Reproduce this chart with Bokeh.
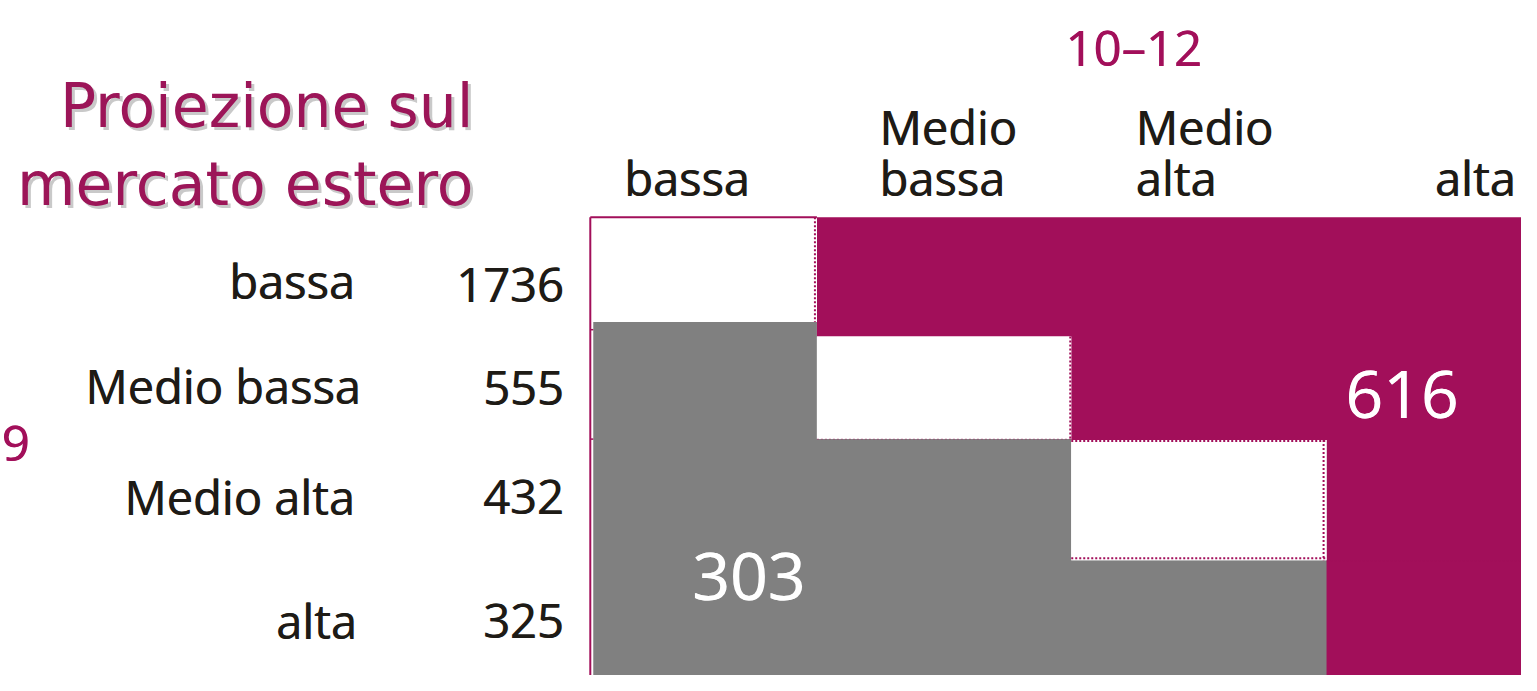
from bokeh.plotting import figure
from bokeh.models import Range1d, ColumnDataSource
from bokeh.core.properties import value
from bokeh.embed import file_html
from bokeh.resources import INLINE

# ---------------- data ----------------
row_labels = ["bassa", "Medio bassa", "Medio alta", "alta"]
row_counts = [1736, 555, 432, 325]
col_labels = [["bassa"], ["Medio", "bassa"], ["Medio", "alta"], ["alta"]]
lower_value = 303
upper_value = 616
col_group = "10–12"
row_group = "9"
title_lines = ["Proiezione sul", "mercato estero"]

# ---------------- layout / style ----------------
W, H = 1537, 691
MAG = "#A20F5A"
GRAY = "#808080"
DARK = "#1E1B16"
FONT = "Open Sans"
col_edges = [597, 825, 1082, 1340, W]
diag_top = [222, 344, 450]
diag_bottom = [329, 449, 573]
grid_top = 222

p = figure(width=1521, height=675, x_range=Range1d(0, W), y_range=Range1d(H, 0),
           output_backend="svg", toolbar_location=None, min_border=0)
p.axis.visible = False
p.grid.visible = False
p.outline_line_color = None
p.background_fill_color = "white"
p.border_fill_color = "white"

n = len(row_labels)
nd = len(diag_top)

# lower triangle (gray) as one staircase polygon
gx = [col_edges[0] + 2]
gy = [diag_bottom[0]]
for c in range(nd):
    gx += [col_edges[c + 1] + (1 if c == nd - 1 else 0)]
    gy += [diag_bottom[c]]
    if c < nd - 1:
        gx += [col_edges[c + 1]]
        gy += [diag_bottom[c + 1]]
gx += [col_edges[nd] + 1, col_edges[0] + 2]
gy += [H, H]
p.patch(gx, gy, fill_color=GRAY, line_color=None)

# upper triangle (magenta) as one staircase polygon
mx = [col_edges[1], W, W, col_edges[nd]]
my = [grid_top, grid_top, H, H]
for c in range(nd - 1, 0, -1):
    mx += [col_edges[c + 1], col_edges[c]]
    my += [diag_top[c], diag_top[c]]
p.patch(mx, my, fill_color=MAG, line_color=None)

# diagonal white cells
dl = [col_edges[c] for c in range(nd)]
dr = [col_edges[c + 1] for c in range(nd)]
p.quad(left=dl, right=dr, top=diag_top, bottom=diag_bottom, fill_color="white", line_color=None)

# borders
p.line([col_edges[0] - 1, col_edges[0] - 1], [grid_top, H], line_color=MAG, line_width=2)
p.line([col_edges[0] - 1, col_edges[1]], [grid_top, grid_top], line_color=MAG, line_width=2)
p.segment(x0=[col_edges[0] - 1] * 2, x1=[col_edges[0] + 2] * 2, y0=[337, 449], y1=[337, 449],
          line_color=MAG, line_width=1.5)
# dotted edges of the diagonal cells
p.segment(x0=[col_edges[1] - 2, col_edges[2] - 1, col_edges[3] - 3],
          x1=[col_edges[1] - 2, col_edges[2] - 1, col_edges[3] - 3],
          y0=diag_top, y1=diag_bottom,
          line_color=MAG, line_width=2, line_dash="2 2")
p.segment(x0=[col_edges[2], col_edges[2]], x1=[col_edges[3], col_edges[3]],
          y0=[diag_top[2] + 1, diag_bottom[2] - 2], y1=[diag_top[2] + 1, diag_bottom[2] - 2],
          line_color=MAG, line_width=2, line_dash="2 2")
p.segment(x0=[col_edges[1], col_edges[3]], x1=[col_edges[2], W],
          y0=[diag_bottom[1], diag_bottom[2] + 1], y1=[diag_bottom[1], diag_bottom[2] + 1],
          line_color=MAG, line_width=1, line_dash="2 2", line_alpha=0.45)


def txt(x, y, s, size, color, align="left", font=FONT, alpha=1.0, heavy=True):
    offs = [0.0, 0.7] if heavy else [0.0]
    for dx in offs:
        src = ColumnDataSource(dict(x=[v + dx for v in x], y=y, t=s))
        p.text(x="x", y="y", text="t", source=src, text_font=value(font),
               text_font_size=f"{size}px", text_color=color, text_align=align,
               text_baseline="alphabetic", text_alpha=alpha)


# title with shadow
ty = [108, 188]
txt([481, 481], [y + 3 for y in ty], title_lines, 60, "#777777", "right", "DejaVu Sans", 0.4, False)
txt([478, 478], ty, title_lines, 60, "#9C1558", "right", "DejaVu Sans", 1.0, False)

# group labels
txt([1145], [48], [col_group], 49, MAG, "center")
txt([1], [453], [row_group], 49, MAG, "left")

# column headers
col_x = [630, 888, 1147, 1531]
for c, lines in enumerate(col_labels):
    if len(lines) == 1:
        txt([col_x[c]], [182], lines, 47, DARK, "right" if c == n - 1 else "left")
    else:
        txt([col_x[c], col_x[c]], [130, 182], lines, 47, DARK, "left")

# row labels and counts
row_y = [287, 395, 508, 635]
txt([358, 364, 358, 360], row_y, row_labels, 47, DARK, "right")
txt([569] * n, [291, 397, 508, 635], [str(v) for v in row_counts], 47, DARK, "right")

# cell values
txt([756], [590], [str(lower_value)], 66, "white", "center")
txt([1416], [403], [str(upper_value)], 66, "white", "center")

open("out.html", "w").write(file_html(p, INLINE))
